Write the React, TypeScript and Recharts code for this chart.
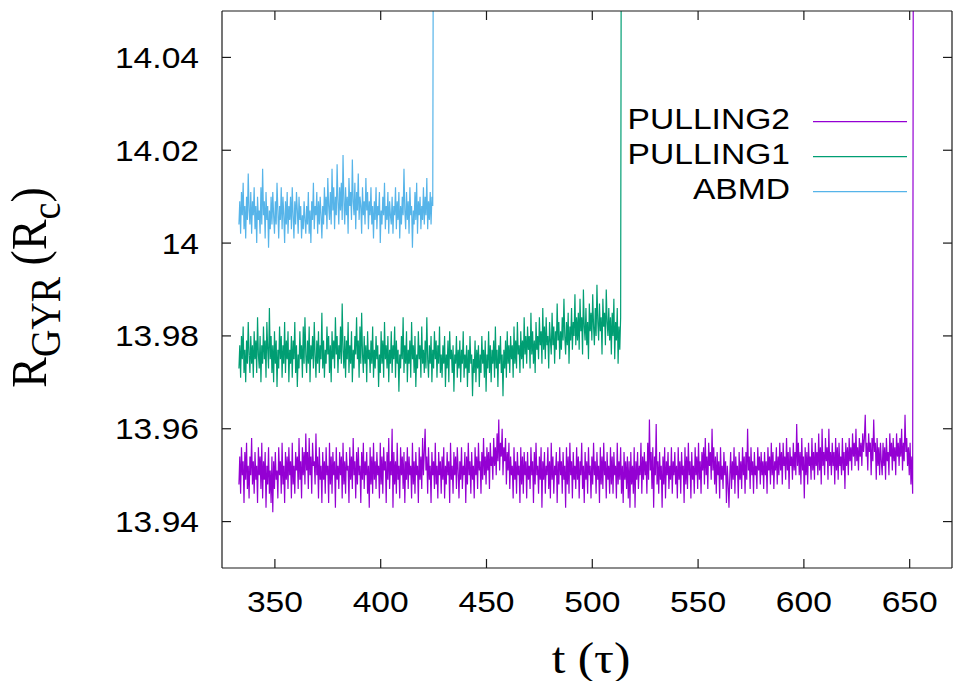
import { LineChart, Line, XAxis, YAxis, Legend, Label } from "recharts";

// axis setup (gnuplot-like box)
const X_DOMAIN = [325, 670];
const Y_DOMAIN = [13.93, 14.05];
const X_TICKS = [350, 400, 450, 500, 550, 600, 650];
const Y_TICKS = [13.94, 13.96, 13.98, 14, 14.02, 14.04];
const LEGEND_ORDER = ["PULLING2", "PULLING1", "ABMD"];

// samples are evenly spaced in t (one row = 20 samples = 8 tau)
const T_START = 333;
const T_STEP = 0.4;

// R_GYR values; last value is the jump off the top
const abmd = [
  14.004, 14.009, 14.002, 14.011, 14.006, 14.013, 14.003, 14.008, 14.001, 14.010, 14.005, 14.015, 14.007, 14.004, 14.011, 14.002, 14.009, 14.006, 14.012, 14.003,
  14.008, 14.000, 14.010, 14.005, 14.007, 14.002, 14.012, 14.004, 14.016, 14.006, 14.009, 14.001, 14.011, 14.005, 14.008, 13.999, 14.007, 14.003, 14.010, 14.004,
  14.011, 14.006, 14.002, 14.009, 14.004, 14.013, 14.007, 14.001, 14.008, 14.005, 14.012, 14.003, 14.010, 14.006, 14.000, 14.009, 14.004, 14.011, 14.002, 14.008,
  14.005, 14.010, 14.003, 14.012, 14.006, 14.001, 14.009, 14.004, 14.011, 14.007, 14.002, 14.010, 14.005, 14.008, 14.001, 14.006, 14.003, 14.009, 14.005, 14.002,
  14.008, 14.004, 14.011, 14.002, 14.007, 14.000, 14.009, 14.005, 14.013, 14.003, 14.008, 14.006, 14.011, 14.002, 14.009, 14.004, 14.010, 14.006, 14.001, 14.008,
  14.004, 14.012, 14.006, 14.010, 14.003, 14.014, 14.008, 14.005, 14.011, 14.004, 14.016, 14.007, 14.012, 14.003, 14.010, 14.006, 14.017, 14.009, 14.004, 14.012,
  14.007, 14.013, 14.005, 14.019, 14.009, 14.004, 14.012, 14.006, 14.010, 14.002, 14.014, 14.008, 14.011, 14.005, 14.018, 14.009, 14.006, 14.013, 14.003, 14.011,
  14.007, 14.015, 14.005, 14.010, 14.008, 14.002, 14.012, 14.006, 14.009, 14.004, 14.014, 14.007, 14.011, 14.003, 14.009, 14.006, 14.012, 14.004, 14.008, 14.001,
  14.009, 14.005, 14.012, 14.003, 14.008, 14.006, 14.011, 14.000, 14.007, 14.004, 14.010, 14.006, 14.013, 14.003, 14.008, 14.005, 14.011, 14.002, 14.009, 14.006,
  14.004, 14.010, 14.002, 14.008, 14.006, 14.012, 14.003, 14.009, 14.005, 14.011, 14.001, 14.008, 14.004, 14.010, 14.006, 14.016, 14.007, 14.003, 14.011, 14.005,
  14.009, 14.002, 14.012, 14.006, 14.008, 13.999, 14.007, 14.004, 14.011, 14.005, 14.013, 14.002, 14.009, 14.006, 14.010, 14.003, 14.008, 14.005, 14.012, 14.004,
  14.010, 14.006, 14.014, 14.003, 14.009, 14.005, 14.011, 14.004, 14.010, 14.008,
  14.1,
];

const pulling1 = [
  13.973, 13.978, 13.971, 13.980, 13.975, 13.982, 13.972, 13.977, 13.970, 13.979, 13.974, 13.983, 13.976, 13.972, 13.980, 13.974, 13.978, 13.971, 13.981, 13.975,
  13.979, 13.972, 13.984, 13.976, 13.973, 13.980, 13.970, 13.978, 13.974, 13.982, 13.975, 13.979, 13.971, 13.983, 13.977, 13.973, 13.986, 13.975, 13.980, 13.972,
  13.978, 13.970, 13.981, 13.974, 13.979, 13.969, 13.977, 13.973, 13.982, 13.975, 13.980, 13.971, 13.978, 13.974, 13.983, 13.972, 13.979, 13.975, 13.981, 13.970,
  13.977, 13.974, 13.980, 13.971, 13.979, 13.975, 13.983, 13.972, 13.978, 13.969, 13.976, 13.973, 13.981, 13.975, 13.978, 13.971, 13.982, 13.974, 13.984, 13.976,
  13.972, 13.979, 13.974, 13.982, 13.970, 13.978, 13.975, 13.980, 13.973, 13.983, 13.976, 13.971, 13.979, 13.974, 13.981, 13.972, 13.978, 13.975, 13.985, 13.973,
  13.979, 13.971, 13.977, 13.974, 13.982, 13.976, 13.980, 13.972, 13.978, 13.970, 13.981, 13.975, 13.979, 13.973, 13.984, 13.976, 13.980, 13.972, 13.978, 13.975,
  13.982, 13.974, 13.987, 13.977, 13.973, 13.980, 13.971, 13.979, 13.975, 13.983, 13.972, 13.978, 13.974, 13.981, 13.970, 13.977, 13.973, 13.980, 13.976, 13.984,
  13.975, 13.979, 13.971, 13.982, 13.974, 13.985, 13.976, 13.972, 13.980, 13.974, 13.978, 13.970, 13.981, 13.975, 13.977, 13.972, 13.979, 13.974, 13.982, 13.971,
  13.977, 13.973, 13.980, 13.975, 13.978, 13.969, 13.976, 13.972, 13.981, 13.974, 13.979, 13.971, 13.983, 13.975, 13.978, 13.973, 13.980, 13.970, 13.977, 13.974,
  13.981, 13.972, 13.978, 13.975, 13.982, 13.971, 13.979, 13.974, 13.977, 13.968, 13.976, 13.973, 13.980, 13.975, 13.984, 13.972, 13.978, 13.974, 13.981, 13.970,
  13.977, 13.974, 13.979, 13.971, 13.983, 13.975, 13.978, 13.972, 13.980, 13.969, 13.976, 13.973, 13.981, 13.975, 13.978, 13.971, 13.982, 13.974, 13.977, 13.972,
  13.979, 13.973, 13.984, 13.975, 13.971, 13.978, 13.974, 13.980, 13.970, 13.977, 13.973, 13.981, 13.975, 13.979, 13.971, 13.978, 13.974, 13.982, 13.972, 13.976,
  13.971, 13.978, 13.974, 13.980, 13.969, 13.976, 13.973, 13.979, 13.970, 13.981, 13.975, 13.977, 13.972, 13.978, 13.968, 13.976, 13.974, 13.980, 13.971, 13.977,
  13.973, 13.979, 13.970, 13.977, 13.974, 13.981, 13.971, 13.976, 13.973, 13.978, 13.969, 13.977, 13.972, 13.980, 13.974, 13.976, 13.967, 13.975, 13.972, 13.979,
  13.970, 13.977, 13.973, 13.978, 13.969, 13.976, 13.972, 13.980, 13.974, 13.977, 13.971, 13.979, 13.968, 13.976, 13.973, 13.981, 13.972, 13.978, 13.970, 13.977,
  13.974, 13.979, 13.971, 13.982, 13.973, 13.977, 13.969, 13.978, 13.974, 13.980, 13.972, 13.976, 13.967, 13.977, 13.973, 13.979, 13.971, 13.981, 13.974, 13.978,
  13.972, 13.980, 13.975, 13.978, 13.971, 13.982, 13.974, 13.979, 13.973, 13.983, 13.976, 13.978, 13.972, 13.981, 13.975, 13.979, 13.973, 13.984, 13.976, 13.980,
  13.974, 13.982, 13.977, 13.980, 13.973, 13.985, 13.976, 13.981, 13.974, 13.979, 13.972, 13.983, 13.977, 13.980, 13.975, 13.984, 13.978, 13.981, 13.974, 13.986,
  13.977, 13.982, 13.975, 13.984, 13.978, 13.980, 13.973, 13.983, 13.979, 13.976, 13.985, 13.978, 13.982, 13.974, 13.981, 13.977, 13.987, 13.979, 13.983, 13.975,
  13.981, 13.977, 13.984, 13.979, 13.988, 13.980, 13.976, 13.983, 13.978, 13.985, 13.974, 13.982, 13.979, 13.986, 13.977, 13.983, 13.980, 13.989, 13.978, 13.984,
  13.979, 13.985, 13.977, 13.988, 13.981, 13.984, 13.976, 13.990, 13.982, 13.979, 13.986, 13.978, 13.983, 13.975, 13.987, 13.981, 13.985, 13.979, 13.989, 13.982,
  13.978, 13.986, 13.980, 13.991, 13.983, 13.979, 13.987, 13.981, 13.984, 13.976, 13.988, 13.982, 13.985, 13.978, 13.990, 13.983, 13.980, 13.986, 13.979, 13.984,
  13.976, 13.985, 13.980, 13.988, 13.975, 13.983, 13.979, 13.986, 13.974, 13.982, 13.977, 13.984,
  14.1,
];

const pulling2 = [
  13.948, 13.954, 13.946, 13.956, 13.950, 13.953, 13.944, 13.955, 13.949, 13.957, 13.947, 13.952, 13.945, 13.954, 13.950, 13.958, 13.948, 13.953, 13.946, 13.955,
  13.949, 13.952, 13.944, 13.956, 13.950, 13.954, 13.947, 13.957, 13.945, 13.953, 13.949, 13.955, 13.943, 13.952, 13.948, 13.956, 13.946, 13.951, 13.944, 13.954,
  13.942, 13.953, 13.947, 13.955, 13.949, 13.951, 13.945, 13.956, 13.950, 13.953, 13.946, 13.957, 13.948, 13.952, 13.944, 13.955, 13.949, 13.954, 13.947, 13.956,
  13.950, 13.953, 13.945, 13.957, 13.948, 13.952, 13.946, 13.955, 13.951, 13.954, 13.947, 13.958, 13.949, 13.953, 13.945, 13.956, 13.950, 13.955, 13.948, 13.959,
  13.951, 13.955, 13.947, 13.958, 13.950, 13.954, 13.946, 13.957, 13.952, 13.953, 13.948, 13.959, 13.950, 13.954, 13.945, 13.956, 13.949, 13.952, 13.944, 13.955,
  13.949, 13.953, 13.946, 13.956, 13.950, 13.952, 13.944, 13.957, 13.948, 13.954, 13.946, 13.955, 13.950, 13.953, 13.943, 13.956, 13.949, 13.952, 13.947, 13.955,
  13.950, 13.954, 13.945, 13.957, 13.948, 13.953, 13.946, 13.955, 13.951, 13.952, 13.944, 13.956, 13.949, 13.954, 13.947, 13.958, 13.950, 13.953, 13.945, 13.955,
  13.948, 13.956, 13.950, 13.952, 13.944, 13.955, 13.949, 13.957, 13.947, 13.953, 13.950, 13.955, 13.946, 13.952, 13.943, 13.956, 13.948, 13.954, 13.946, 13.957,
  13.949, 13.953, 13.947, 13.955, 13.950, 13.952, 13.945, 13.957, 13.948, 13.954, 13.946, 13.956, 13.951, 13.953, 13.944, 13.955, 13.949, 13.958, 13.947, 13.953,
  13.950, 13.960, 13.943, 13.955, 13.948, 13.953, 13.946, 13.957, 13.949, 13.952, 13.945, 13.956, 13.950, 13.954, 13.947, 13.955, 13.944, 13.953, 13.949, 13.956,
  13.947, 13.954, 13.950, 13.952, 13.945, 13.957, 13.948, 13.953, 13.946, 13.955, 13.950, 13.952, 13.944, 13.956, 13.949, 13.954, 13.947, 13.958, 13.950, 13.955,
  13.960, 13.951, 13.954, 13.946, 13.956, 13.949, 13.952, 13.944, 13.955, 13.950, 13.953, 13.947, 13.957, 13.948, 13.952, 13.945, 13.955, 13.950, 13.953, 13.946,
  13.954, 13.949, 13.956, 13.945, 13.952, 13.948, 13.955, 13.950, 13.953, 13.944, 13.957, 13.949, 13.952, 13.946, 13.955, 13.950, 13.954, 13.947, 13.956, 13.951,
  13.945, 13.953, 13.949, 13.956, 13.947, 13.952, 13.950, 13.955, 13.944, 13.954, 13.948, 13.957, 13.950, 13.953, 13.946, 13.955, 13.949, 13.952, 13.945, 13.956,
  13.950, 13.954, 13.947, 13.957, 13.951, 13.953, 13.946, 13.955, 13.949, 13.958, 13.950, 13.954, 13.948, 13.956, 13.951, 13.955, 13.947, 13.957, 13.952, 13.954,
  13.949, 13.958, 13.952, 13.956, 13.950, 13.959, 13.953, 13.962, 13.951, 13.957, 13.954, 13.960, 13.950, 13.956, 13.953, 13.958, 13.948, 13.955, 13.951, 13.957,
  13.947, 13.954, 13.950, 13.952, 13.945, 13.956, 13.949, 13.953, 13.946, 13.955, 13.950, 13.952, 13.944, 13.956, 13.948, 13.954, 13.946, 13.955, 13.950, 13.953,
  13.945, 13.955, 13.949, 13.952, 13.947, 13.956, 13.950, 13.953, 13.944, 13.955, 13.948, 13.957, 13.950, 13.952, 13.946, 13.954, 13.949, 13.956, 13.943, 13.953,
  13.949, 13.955, 13.946, 13.952, 13.950, 13.956, 13.947, 13.953, 13.945, 13.957, 13.949, 13.954, 13.946, 13.952, 13.950, 13.955, 13.944, 13.953, 13.948, 13.956,
  13.950, 13.953, 13.946, 13.955, 13.949, 13.952, 13.943, 13.956, 13.948, 13.954, 13.946, 13.957, 13.950, 13.953, 13.945, 13.955, 13.949, 13.952, 13.947, 13.956,
  13.949, 13.954, 13.945, 13.953, 13.950, 13.957, 13.947, 13.952, 13.944, 13.955, 13.949, 13.953, 13.946, 13.956, 13.950, 13.952, 13.945, 13.954, 13.948, 13.957,
  13.950, 13.953, 13.946, 13.955, 13.949, 13.952, 13.944, 13.956, 13.948, 13.954, 13.947, 13.957, 13.950, 13.953, 13.945, 13.955, 13.949, 13.952, 13.946, 13.956,
  13.948, 13.954, 13.946, 13.955, 13.950, 13.952, 13.945, 13.957, 13.948, 13.953, 13.949, 13.956, 13.946, 13.952, 13.944, 13.955, 13.949, 13.953, 13.947, 13.954,
  13.945, 13.953, 13.943, 13.955, 13.948, 13.952, 13.946, 13.956, 13.943, 13.953, 13.949, 13.955, 13.947, 13.952, 13.950, 13.957, 13.946, 13.954, 13.949, 13.955,
  13.950, 13.953, 13.946, 13.957, 13.949, 13.962, 13.951, 13.955, 13.947, 13.956, 13.943, 13.954, 13.950, 13.961, 13.948, 13.953, 13.946, 13.955, 13.949, 13.952,
  13.943, 13.954, 13.948, 13.956, 13.945, 13.953, 13.950, 13.955, 13.947, 13.952, 13.949, 13.956, 13.946, 13.953, 13.950, 13.955, 13.948, 13.952, 13.945, 13.956,
  13.949, 13.953, 13.946, 13.955, 13.950, 13.952, 13.944, 13.956, 13.948, 13.954, 13.947, 13.957, 13.950, 13.953, 13.945, 13.955, 13.949, 13.952, 13.946, 13.956,
  13.950, 13.954, 13.947, 13.957, 13.949, 13.953, 13.946, 13.955, 13.951, 13.956, 13.948, 13.958, 13.950, 13.954, 13.947, 13.957, 13.952, 13.955, 13.949, 13.960,
  13.951, 13.956, 13.948, 13.954, 13.946, 13.955, 13.950, 13.953, 13.945, 13.956, 13.949, 13.952, 13.947, 13.955, 13.950, 13.953, 13.944, 13.952, 13.948, 13.943,
  13.950, 13.955, 13.947, 13.953, 13.949, 13.956, 13.946, 13.954, 13.950, 13.952, 13.945, 13.955, 13.949, 13.953, 13.947, 13.956, 13.950, 13.954, 13.946, 13.955,
  13.949, 13.960, 13.951, 13.954, 13.947, 13.956, 13.950, 13.953, 13.946, 13.955, 13.950, 13.952, 13.947, 13.956, 13.951, 13.954, 13.948, 13.955, 13.950, 13.953,
  13.947, 13.955, 13.950, 13.953, 13.946, 13.956, 13.951, 13.954, 13.948, 13.957, 13.950, 13.955, 13.947, 13.953, 13.951, 13.956, 13.948, 13.954, 13.950, 13.957,
  13.951, 13.955, 13.948, 13.957, 13.952, 13.954, 13.949, 13.958, 13.951, 13.955, 13.947, 13.956, 13.952, 13.954, 13.949, 13.957, 13.951, 13.955, 13.950, 13.961,
  13.952, 13.957, 13.950, 13.955, 13.948, 13.958, 13.951, 13.954, 13.945, 13.956, 13.950, 13.955, 13.948, 13.957, 13.952, 13.954, 13.949, 13.958, 13.951, 13.955,
  13.949, 13.957, 13.952, 13.955, 13.950, 13.959, 13.951, 13.956, 13.948, 13.960, 13.952, 13.955, 13.950, 13.958, 13.953, 13.956, 13.949, 13.960, 13.952, 13.955,
  13.950, 13.957, 13.952, 13.955, 13.948, 13.958, 13.951, 13.956, 13.949, 13.957, 13.952, 13.954, 13.950, 13.958, 13.951, 13.955, 13.947, 13.957, 13.952, 13.956,
  13.950, 13.958, 13.953, 13.956, 13.951, 13.959, 13.954, 13.957, 13.952, 13.960, 13.953, 13.956, 13.951, 13.958, 13.954, 13.957, 13.952, 13.959, 13.955, 13.958,
  13.963, 13.954, 13.957, 13.951, 13.959, 13.955, 13.957, 13.950, 13.958, 13.953, 13.962, 13.955, 13.957, 13.949, 13.958, 13.952, 13.956, 13.950, 13.957, 13.953,
  13.950, 13.957, 13.952, 13.956, 13.949, 13.958, 13.953, 13.955, 13.950, 13.959, 13.954, 13.957, 13.951, 13.958, 13.953, 13.956, 13.950, 13.959, 13.954, 13.957,
  13.952, 13.958, 13.954, 13.960, 13.951, 13.957, 13.953, 13.963, 13.955, 13.958, 13.952, 13.956, 13.950, 13.957, 13.948, 13.954, 13.946,
  14.1,
];

const toRows = (values: number[]) =>
  values.map((r, i) => ({ t: +(T_START + i * T_STEP).toFixed(2), r }));

const abmdRows = toRows(abmd);
const pulling1Rows = toRows(pulling1);
const pulling2Rows = toRows(pulling2);

const SANS = "'Liberation Sans', Arial, Helvetica, sans-serif";
const SERIF = "'Liberation Serif', 'Times New Roman', serif";
const STRETCH = 1.12;
const AXIS = "#1a1a1a";
const PLOT_W = 730;
const PLOT_H = 557;
const TICK_LEN = 9;

// bottom labels + inward tick marks on bottom and top edges
function XTick({ x, y, payload }: any) {
  return (
    <g>
      <line x1={x} x2={x} y1={y} y2={y - TICK_LEN} stroke={AXIS} strokeWidth={1.2} />
      <line x1={x} x2={x} y1={y - PLOT_H} y2={y - PLOT_H + TICK_LEN} stroke={AXIS} strokeWidth={1.2} />
      <text
        transform={`translate(${x},${y + 44}) scale(${STRETCH},1)`}
        textAnchor="middle"
        fontFamily={SANS}
        fontSize={30}
        fill="#000"
      >
        {payload.value}
      </text>
    </g>
  );
}

// left labels + inward tick marks on left and right edges
function YTick({ x, y, payload }: any) {
  return (
    <g>
      <line x1={x} x2={x + TICK_LEN} y1={y} y2={y} stroke={AXIS} strokeWidth={1.2} />
      <line x1={x + PLOT_W} x2={x + PLOT_W - TICK_LEN} y1={y} y2={y} stroke={AXIS} strokeWidth={1.2} />
      <text
        transform={`translate(${x - 23},${y + 10.5}) scale(${STRETCH},1)`}
        textAnchor="end"
        fontFamily={SANS}
        fontSize={30}
        fill="#000"
      >
        {payload.value}
      </text>
    </g>
  );
}

function YTitle({ viewBox }: any) {
  const vb = viewBox || { x: 0, y: 11, width: 222, height: 557 };
  const cx = vb.x + 46;
  const cy = vb.y + vb.height / 2 - 2;
  return (
    <text
      transform={`translate(${cx},${cy}) scale(1.1,1) rotate(-90)`}
      textAnchor="middle"
      fontFamily={SERIF}
      fontSize={46}
      fill="#000"
    >
      R
      <tspan fontSize={38} dy={13}>GYR</tspan>
      <tspan dy={-13}> (R</tspan>
      <tspan fontSize={38} dy={13}>c</tspan>
      <tspan dy={-13}>)</tspan>
    </text>
  );
}

function XTitle({ viewBox }: any) {
  const vb = viewBox || { x: 222, y: 568, width: 730, height: 113 };
  return (
    <text
      transform={`translate(${vb.x + vb.width / 2 + 4},${vb.y + 105}) scale(${STRETCH},1)`}
      textAnchor="middle"
      fontFamily={SERIF}
      fontSize={44}
      fill="#000"
    >
      t (τ)
    </text>
  );
}

function KeyBox({ payload }: any) {
  const items = LEGEND_ORDER.map((name) => (payload || []).find((p: any) => p.value === name)).filter(Boolean);
  return (
    <svg width={353} height={110} style={{ display: "block" }}>
      {items.map((item: any, i: number) => (
        <g key={item.value}>
          <text
            transform={`translate(190,${29.3 + i * 35}) scale(${STRETCH},1)`}
            textAnchor="end"
            fontFamily={SANS}
            fontSize={30}
            fill="#000"
          >
            {item.value}
          </text>
          <line x1={213} x2={307} y1={21.7 + i * 35} y2={21.7 + i * 35} stroke={item.color} strokeWidth={1.2} />
        </g>
      ))}
    </svg>
  );
}

export default function App() {
  return (
    <div style={{ position: "absolute", left: 0, top: 0, background: "#fff" }}>
      <LineChart width={953} height={681} margin={{ top: 11, right: 1, left: 0, bottom: 0 }}>
        <XAxis
          dataKey="t"
          type="number"
          domain={X_DOMAIN}
          ticks={X_TICKS}
          allowDataOverflow
          height={113}
          tickSize={0}
          tickMargin={0}
          tickLine={false}
          tick={<XTick />}
          axisLine={{ stroke: AXIS, strokeWidth: 1.2 }}
        >
          <Label content={<XTitle />} />
        </XAxis>
        <XAxis
          xAxisId="top"
          dataKey="t"
          type="number"
          domain={X_DOMAIN}
          allowDataOverflow
          orientation="top"
          mirror
          tick={false}
          tickLine={false}
          axisLine={{ stroke: AXIS, strokeWidth: 1.2 }}
        />
        <YAxis
          type="number"
          domain={Y_DOMAIN}
          ticks={Y_TICKS}
          allowDataOverflow
          width={222}
          tickSize={0}
          tickMargin={0}
          tickLine={false}
          tick={<YTick />}
          axisLine={{ stroke: AXIS, strokeWidth: 1.2 }}
        >
          <Label content={<YTitle />} />
        </YAxis>
        <YAxis
          yAxisId="right"
          type="number"
          domain={Y_DOMAIN}
          allowDataOverflow
          orientation="right"
          mirror
          tick={false}
          tickLine={false}
          axisLine={{ stroke: AXIS, strokeWidth: 1.2 }}
        />
        <Legend
          layout="horizontal"
          verticalAlign="middle"
          align="center"
          width={353}
          wrapperStyle={{ left: 600, top: 100, width: 353 }}
          content={<KeyBox />}
        />
        <Line
          data={pulling2Rows}
          dataKey="r"
          name="PULLING2"
          type="linear"
          stroke="#9400d3"
          strokeWidth={1.2}
          dot={false}
          isAnimationActive={false}
        />
        <Line
          data={pulling1Rows}
          dataKey="r"
          name="PULLING1"
          type="linear"
          stroke="#009e73"
          strokeWidth={1.2}
          dot={false}
          isAnimationActive={false}
        />
        <Line
          data={abmdRows}
          dataKey="r"
          name="ABMD"
          type="linear"
          stroke="#56b4e9"
          strokeWidth={1.2}
          dot={false}
          isAnimationActive={false}
        />
      </LineChart>
    </div>
  );
}
